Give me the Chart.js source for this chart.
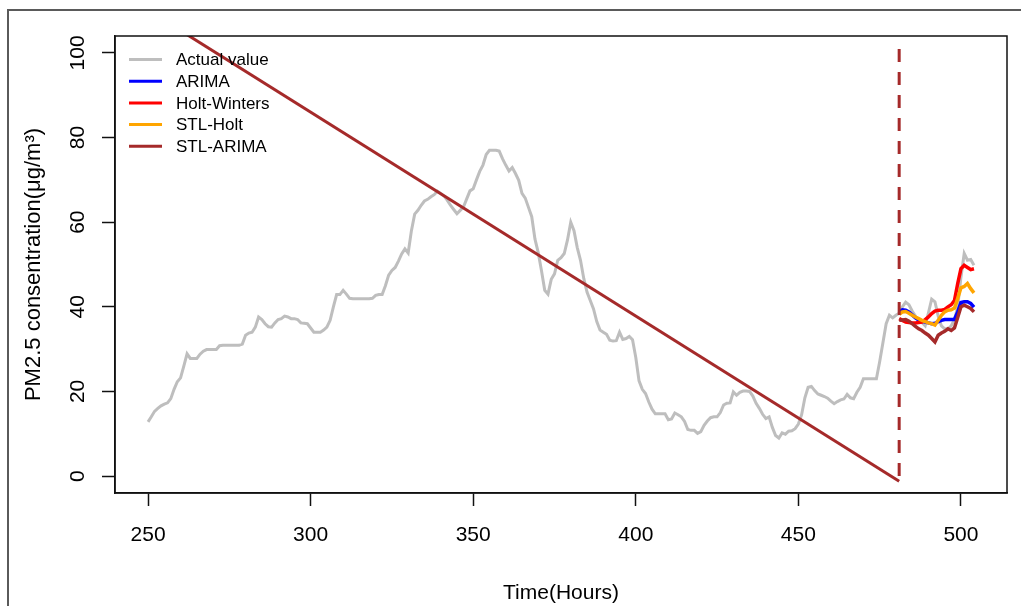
<!DOCTYPE html>
<html>
<head>
<meta charset="utf-8">
<script src="https://cdn.jsdelivr.net/npm/chart.js@4.4.1/dist/chart.umd.min.js"></script>
<style>
  html, body { margin: 0; padding: 0; background: #fff; }
  #wrap { position: relative; width: 1021px; height: 606px; overflow: hidden; }
  #frame { position: absolute; left: 7px; top: 9px; width: 1100px; height: 700px;
           border-left: 2px solid #5a5a5a; border-top: 2px solid #5a5a5a; }
  canvas { position: absolute; left: 0; top: 0; }
</style>
</head>
<body>
<div id="wrap">
  <div id="frame"></div>
  <canvas id="my-chart" width="1021" height="606"></canvas>
</div>
<script>
// tick labels
const xTicks = [250, 300, 350, 400, 450, 500];
const yTicks = [0, 20, 40, 60, 80, 100];

// observed PM2.5, one value per hour starting at hour 250
const actualStart = 250;
const actualValues = [
    12.8, 14.0, 15.3, 16.0, 16.6, 17.0, 17.3, 18.3, 20.5, 22.3,
    23.2, 26.0, 28.9, 27.8, 27.8, 27.8, 28.8, 29.5, 29.9, 29.9,
    29.9, 29.9, 30.8, 30.9, 30.9, 30.9, 30.9, 30.9, 30.9, 31.2,
    33.3, 33.8, 34.0, 35.2, 37.6, 37.0, 36.0, 35.3, 35.2, 36.2,
    37.0, 37.2, 37.8, 37.6, 37.2, 37.2, 37.0, 36.2, 36.1, 36.0,
    35.0, 34.0, 34.0, 34.0, 34.5, 35.2, 36.8, 40.0, 42.9, 42.9,
    43.9, 43.0, 42.0, 41.9, 41.9, 41.9, 41.9, 41.9, 41.9, 42.0,
    42.7, 42.9, 42.9, 45.0, 47.5, 48.6, 49.3, 50.8, 52.5, 53.7,
    52.7, 58.0, 61.9, 62.8, 64.0, 65.0, 65.4, 66.0, 66.5, 67.3,
    66.8, 66.2, 65.2, 64.0, 63.0, 62.0, 62.8, 63.6, 65.5, 67.4,
    67.9, 70.0, 72.0, 73.5, 76.0, 77.0, 77.0, 77.0, 76.8, 75.0,
    73.5, 72.1, 72.9, 71.5, 69.9, 66.8, 65.7, 63.5, 61.3, 56.0,
    52.8, 48.5, 43.9, 43.0, 46.5, 47.8, 51.0, 51.6, 52.6, 55.8,
    60.0, 58.0, 54.0, 51.0, 46.7, 43.5, 41.5, 39.5, 36.5, 34.5,
    34.0, 33.5, 32.1, 31.9, 32.0, 34.0, 32.3, 32.5, 33.0, 32.2,
    28.0, 22.5, 20.5, 19.5, 17.5, 15.8, 14.7, 14.7, 14.7, 14.7,
    13.3, 13.5, 14.9, 14.5, 14.0, 12.9, 11.0, 10.8, 10.8, 10.1,
    10.5, 12.0, 13.0, 13.8, 14.0, 14.0, 15.0, 16.8, 17.2, 17.3,
    19.9, 19.1, 19.8, 20.1, 20.1, 20.0, 18.9, 17.2, 16.0, 14.6,
    13.6, 14.0, 11.5, 9.6, 9.0, 10.2, 9.9, 10.6, 10.7, 11.2,
    12.3, 14.5, 18.5, 21.0, 21.2, 20.2, 19.4, 19.1, 18.8, 18.4,
    17.7, 17.1, 17.6, 18.0, 18.2, 19.3, 18.5, 18.3, 19.8, 21.0,
    23.0, 23.0, 23.0, 23.0, 23.0, 27.0, 31.5, 36.0, 38.0, 37.4,
    38.0, 38.5, 40.0, 41.1, 40.5, 39.0, 37.8, 36.6, 36.3, 35.5,
    38.6, 41.8, 41.2, 37.8, 35.5, 34.8, 34.8, 35.5, 37.0, 40.0,
    47.0, 52.6, 51.0, 51.2, 49.8
];

// forecasts, hours 481..504
const forecastStart = 481;
const arimaValues = [
    38.9, 39.3, 39.2, 38.8, 38.1, 37.4, 36.9, 36.6, 36.4, 36.2, 36.0, 36.1,
    36.5, 36.8, 37.0, 37.0, 37.0, 37.0, 38.8, 41.0, 41.2, 41.2, 40.8, 39.9
];
const holtWintersValues = [
    37.2, 36.8, 36.4, 36.3, 36.2, 36.2, 36.3, 36.4, 37.0, 37.6, 38.4, 39.0,
    39.2, 39.2, 39.4, 40.0, 40.5, 41.5, 45.5, 49.0, 49.8, 49.3, 48.8, 49.0
];
const stlHoltValues = [
    38.2, 38.8, 38.9, 38.5, 38.0, 37.6, 37.2, 36.8, 36.5, 36.2, 36.0, 35.7,
    36.8, 38.0, 38.8, 39.2, 39.3, 39.7, 42.0, 44.5, 44.8, 45.5, 44.3, 43.3
];
const stlArimaValues = [
    36.8, 36.9, 37.0, 36.6, 36.0, 35.4, 34.8, 34.4, 33.8, 33.3, 32.5, 31.7,
    33.3, 33.8, 34.2, 34.8, 34.4, 35.0, 37.5, 40.0, 40.4, 40.0, 39.6, 38.8
];

// the long STL-ARIMA segment across the training period
const trendHours = [250, 481];
const trendValues = [110.1, -1.2];

// forecast start marker
const cutHours = [481, 481];
const cutValues = [0, 102.5];

const toPoints = (start, values) => values.map((v, i) => ({ x: start + i, y: v }));
const pairPoints = (xs, ys) => xs.map((x, i) => ({ x: x, y: ys[i] }));

const FONT = "'Liberation Sans', Arial, sans-serif";

// box around the plot + legend in the top-left corner (no frame, like R bty="n")
const boxAndLegend = {
    id: 'boxAndLegend',
    afterDraw(chart) {
        const { ctx, chartArea } = chart;
        ctx.save();
        ctx.strokeStyle = '#111';
        ctx.lineWidth = 1.5;
        ctx.strokeRect(chartArea.left, chartArea.top, chartArea.right - chartArea.left, chartArea.bottom - chartArea.top);

        ctx.font = '17px ' + FONT;
        ctx.textBaseline = 'middle';
        ctx.fillStyle = '#000';
        chart.data.datasets.slice(0, 5).forEach((ds, i) => {
            const y = 59.5 + i * 21.7;
            ctx.strokeStyle = ds.borderColor;
            ctx.lineWidth = 3;
            ctx.beginPath();
            ctx.moveTo(129, y);
            ctx.lineTo(162, y);
            ctx.stroke();
            ctx.fillText(ds.label, 176, y + 1);
        });
        ctx.restore();
    }
};

window.onload = () => {
    const canvas = document.getElementById('my-chart').getContext('2d');
    new Chart(canvas, {
        type: 'line',
        data: {
            datasets: [
                { label: 'Actual value', data: toPoints(actualStart, actualValues), borderColor: '#BEBEBE', borderWidth: 3, order: 6 },
                { label: 'ARIMA', data: toPoints(forecastStart, arimaValues), borderColor: '#0000FF', borderWidth: 3.5, order: 5 },
                { label: 'Holt-Winters', data: toPoints(forecastStart, holtWintersValues), borderColor: '#FF0000', borderWidth: 3.5, order: 4 },
                { label: 'STL-Holt', data: toPoints(forecastStart, stlHoltValues), borderColor: '#FFA500', borderWidth: 3.5, order: 3 },
                { label: 'STL-ARIMA', data: toPoints(forecastStart, stlArimaValues), borderColor: '#A52A2A', borderWidth: 3.5, order: 2 },
                { label: 'STL-ARIMA trend', data: pairPoints(trendHours, trendValues), borderColor: '#A52A2A', borderWidth: 3, order: 1 },
                { label: 'cut', data: pairPoints(cutHours, cutValues), borderColor: '#A52A2A', borderWidth: 3, borderDash: [13, 10], order: 0 }
            ]
        },
        options: {
            responsive: false,
            animation: false,
            layout: { padding: { left: 0, top: 36, right: 14, bottom: 0 } },
            elements: { point: { radius: 0 }, line: { tension: 0, fill: false, borderCapStyle: 'butt' } },
            plugins: { legend: { display: false }, tooltip: { enabled: false } },
            scales: {
                x: {
                    type: 'linear',
                    min: 239.84,
                    max: 514.16,
                    afterBuildTicks: (scale) => { scale.ticks = xTicks.map(v => ({ value: v })); },
                    afterFit: (scale) => { scale.height = 113; },
                    grid: { drawOnChartArea: false, drawTicks: true, tickLength: 13, tickColor: '#111', tickWidth: 1.5 },
                    border: { display: true, color: '#111', width: 1.5 },
                    ticks: { color: '#000', padding: 17, maxRotation: 0, font: { family: FONT, size: 21 } },
                    title: { display: true, text: 'Time(Hours)', color: '#000', padding: { top: 0, bottom: 0 }, font: { family: FONT, size: 21, lineHeight: 1.2 } }
                },
                y: {
                    type: 'linear',
                    min: -4,
                    max: 104,
                    afterBuildTicks: (scale) => { scale.ticks = yTicks.map(v => ({ value: v })); },
                    afterFit: (scale) => { scale.width = 115; },
                    grid: { drawOnChartArea: false, drawTicks: true, tickLength: 13, tickColor: '#111', tickWidth: 1.5 },
                    border: { display: true, color: '#111', width: 1.5 },
                    ticks: { color: '#000', padding: 6, minRotation: 90, maxRotation: 90, crossAlign: 'center', font: { family: FONT, size: 21 } },
                    title: { display: true, text: 'PM2.5 consentration(μg/m³)', color: '#000', padding: { top: 21, bottom: 0 }, font: { family: FONT, size: 22, lineHeight: 1.2 } }
                }
            }
        },
        plugins: [boxAndLegend]
    });
}
</script>
</body>
</html>
